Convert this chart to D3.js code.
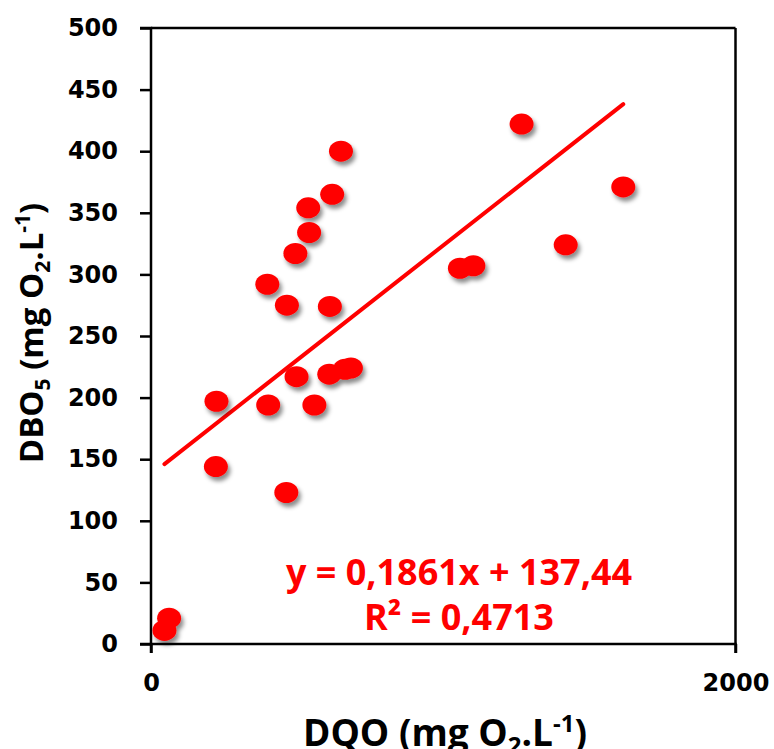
<!DOCTYPE html>
<html>
<head>
<meta charset="utf-8">
<script src="https://cdn.jsdelivr.net/npm/d3@7"></script>
<style>
  html, body { margin: 0; padding: 0; background: #fff; }
  svg { display: block; }
</style>
</head>
<body>
<svg id="chart" width="774" height="749"></svg>
<script>
// DQO vs DBO5 samples (mg O2/L)
const dqo = [46, 62, 224, 222, 398, 401, 465, 463, 494, 498, 541, 538, 559, 612, 610, 620, 650, 664, 684, 1057, 1103, 1268, 1419, 1616];
const dbo5 = [11, 21, 197, 144, 292, 194, 275, 123, 317, 217, 334, 354, 194, 274, 219, 365, 400, 223, 224, 305, 307, 422, 324, 371];

// Linear trend reported on the chart
const slope = 0.1861;
const intercept = 137.44;
const rSquared = 0.4713;

const xTicks = [0, 2000];
const yTicks = [0, 50, 100, 150, 200, 250, 300, 350, 400, 450, 500];

const W = 774, H = 749;
const margin = { top: 28, right: 38.5, bottom: 105, left: 151 };

const svg = d3.select("#chart");

const x = d3.scaleLinear().domain([0, 2000]).range([margin.left, W - margin.right]);
const y = d3.scaleLinear().domain([0, 500]).range([H - margin.bottom, margin.top]);

const tickFont = "'DejaVu Sans', sans-serif";
const textFont = "'Open Sans', sans-serif";

// drop shadow for markers
const defs = svg.append("defs");
const f = defs.append("filter").attr("id", "shadow")
  .attr("x", "-50%").attr("y", "-50%").attr("width", "200%").attr("height", "200%");
f.append("feDropShadow")
  .attr("dx", 2.5).attr("dy", 4).attr("stdDeviation", 2.2)
  .attr("flood-color", "#000").attr("flood-opacity", 0.45);

// plot frame (top and right)
svg.append("line")
  .attr("x1", x(0)).attr("x2", x(2000))
  .attr("y1", y(500)).attr("y2", y(500))
  .attr("stroke", "#000").attr("stroke-width", 2.5);
svg.append("line")
  .attr("x1", x(2000)).attr("x2", x(2000))
  .attr("y1", y(500)).attr("y2", y(0))
  .attr("stroke", "#000").attr("stroke-width", 2.5);

// axes
const xAxis = d3.axisBottom(x).tickValues(xTicks).tickSize(9).tickPadding(21)
  .tickFormat(d3.format("d"));
const yAxis = d3.axisLeft(y).tickValues(yTicks).tickSize(11).tickPadding(22)
  .tickFormat(d3.format("d"));

const gx = svg.append("g").attr("transform", `translate(0,${y(0)})`).call(xAxis);
const gy = svg.append("g").attr("transform", `translate(${x(0)},0)`).call(yAxis);

[gx, gy].forEach(g => {
  g.select(".domain").attr("stroke", "#000").attr("stroke-width", 2.5);
  g.selectAll(".tick line").attr("stroke", "#000").attr("stroke-width", 2.5);
  g.selectAll(".tick text")
    .attr("fill", "#000")
    .style("font-family", tickFont)
    .style("font-weight", "bold")
    .style("font-size", "24px");
});
gy.select(".domain").attr("d", `M-11,${y(500)}H0V${y(0)}H-11`);
gx.select(".domain").attr("d", `M${x(0)},9V0H${x(2000)}V9`);

// trend line over the data range
const xMin = d3.min(dqo), xMax = d3.max(dqo);
svg.append("line")
  .attr("x1", x(xMin)).attr("y1", y(slope * xMin + intercept))
  .attr("x2", x(xMax)).attr("y2", y(slope * xMax + intercept))
  .attr("stroke", "#ff0000").attr("stroke-width", 4).attr("stroke-linecap", "round");

// markers
svg.append("g").attr("filter", "url(#shadow)")
  .selectAll("ellipse")
  .data(dqo.map((v, i) => [v, dbo5[i]]))
  .join("ellipse")
  .attr("cx", d => x(d[0]))
  .attr("cy", d => y(d[1]))
  .attr("rx", 12)
  .attr("ry", 10.5)
  .attr("fill", "#ff0000");

// equation label
const fmt = v => String(v).replace(".", ",");
svg.append("text")
  .attr("x", 459).attr("y", 585)
  .attr("text-anchor", "middle")
  .attr("fill", "#ff0000")
  .style("font-family", textFont).style("font-weight", "bold").style("font-size", "36px")
  .text(`y = ${fmt(slope)}x + ${fmt(intercept)}`);
svg.append("text")
  .attr("x", 459).attr("y", 630)
  .attr("text-anchor", "middle")
  .attr("fill", "#ff0000")
  .style("font-family", textFont).style("font-weight", "bold").style("font-size", "36px")
  .text(`R² = ${fmt(rSquared)}`);

// axis titles
const xt = svg.append("text")
  .attr("x", 445).attr("y", 746)
  .attr("text-anchor", "middle")
  .attr("fill", "#000")
  .style("font-family", textFont).style("font-weight", "bold").style("font-size", "37px");
xt.append("tspan").text("DQO (mg O");
xt.append("tspan").attr("font-size", "24px").attr("dy", 8).text("2");
xt.append("tspan").attr("dy", -8).text(".L");
xt.append("tspan").attr("font-size", "24px").attr("dy", -14).text("-1");
xt.append("tspan").attr("dy", 14).text(")");

const yt = svg.append("text")
  .attr("transform", "translate(43,333) rotate(-90)")
  .attr("text-anchor", "middle")
  .attr("fill", "#000")
  .style("font-family", textFont).style("font-weight", "bold").style("font-size", "33px");
yt.append("tspan").text("DBO");
yt.append("tspan").attr("font-size", "21px").attr("dy", 7).text("5");
yt.append("tspan").attr("dy", -7).text(" (mg O");
yt.append("tspan").attr("font-size", "21px").attr("dy", 7).text("2");
yt.append("tspan").attr("dy", -7).text(".L");
yt.append("tspan").attr("font-size", "21px").attr("dy", -13).text("-1");
yt.append("tspan").attr("dy", 13).text(")");
</script>
</body>
</html>
